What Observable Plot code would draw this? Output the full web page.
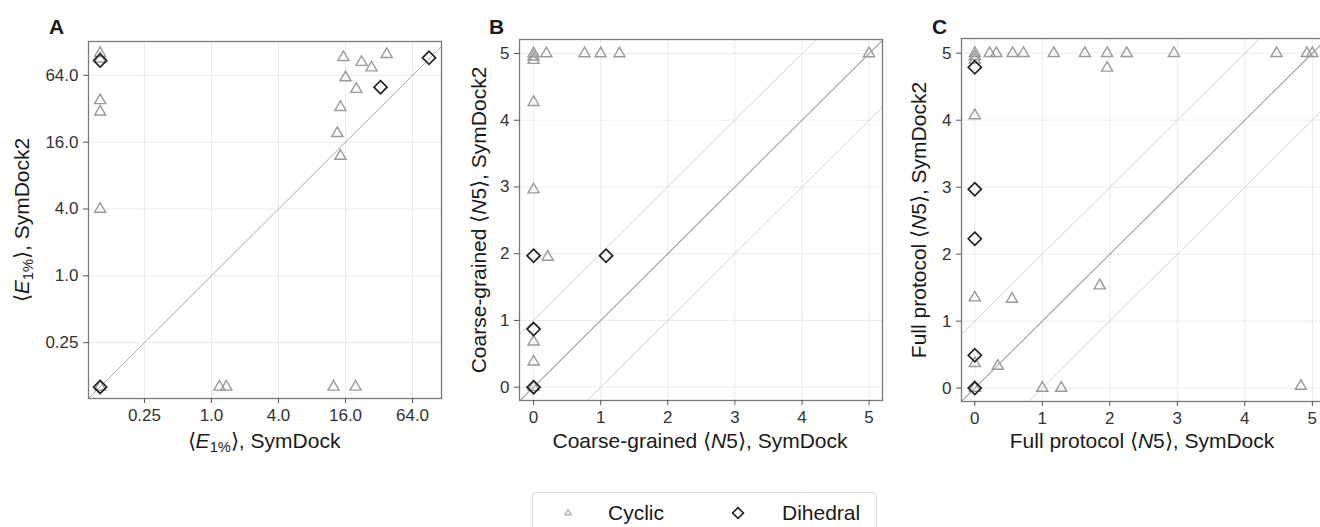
<!DOCTYPE html>
<html>
<head>
<meta charset="utf-8">
<script src="https://cdn.jsdelivr.net/npm/d3@7"></script>
<script src="https://cdn.jsdelivr.net/npm/@observablehq/plot@0.6"></script>
<style>
  html, body { margin: 0; padding: 0; background: #fff; }
  #wrap { position: relative; width: 1320px; height: 527px; overflow: hidden; background: #fff;
          font-family: "Liberation Sans", Arial, sans-serif; color: #1a1a1a; }
  .panel { position: absolute; top: 0; }
  .letter { position: absolute; font-weight: bold; font-size: 21px; line-height: 1; }
  .xt { position: absolute; font-size: 21px; white-space: nowrap; transform: translate(-50%, -50%); }
  .yt { position: absolute; font-size: 21px; white-space: nowrap; transform: translate(-50%, -50%) rotate(-90deg); }
  sub { font-size: 0.7em; vertical-align: -0.25em; line-height: 0; }
  #legend { position: absolute; left: 532px; top: 492px; width: 345px; height: 50px;
            border: 1px solid #dcdcdc; border-radius: 4px; box-sizing: border-box; }
  #legend .lab { position: absolute; top: 20px; font-size: 21px; transform: translateY(-50%); white-space: nowrap; }
  #legend svg { position: absolute; }
</style>
</head>
<body>
<div id="wrap"></div>
<script>
// ---------------- Data ----------------
// Panel A: <E1%> (log scale), zero values shown at the 0.1 floor
const aCyclicX = [0.1, 0.1, 0.1, 0.1, 0.1, 0.1, 1.18, 1.36, 12.5, 19.7, 15.3, 16, 20, 22.3, 27.4, 37.5, 14.4, 13.5, 14.4];
const aCyclicY = [101, 90, 38, 30, 4.0, 0.1, 0.1, 0.1, 0.1, 0.1, 93, 61, 48, 84, 75, 99, 33, 19.2, 12];
const aDihedralX = [0.1, 0.1, 33, 90];
const aDihedralY = [87, 0.1, 50, 92];
const aTicks = [0.25, 1, 4, 16, 64];
const aTickLabels = ["0.25", "1.0", "4.0", "16.0", "64.0"];
const aDomainX = [0.0786, 116.5];
const aDomainY = [0.0786, 129];

// Panel B: coarse-grained <N5>
const bCyclicX = [0, 0, 0, 0.19, 0.76, 1.0, 1.28, 5.0, 0, 0, 0, 0, 0, 0.21];
const bCyclicY = [5, 4.95, 4.9, 5, 5, 5, 5, 5, 4.27, 2.96, 0.68, 0.38, 0, 1.95];
const bDihedralX = [0, 1.08, 0, 0];
const bDihedralY = [1.97, 1.97, 0.87, 0];

// Panel C: full protocol <N5>
const cCyclicX = [0, 0, 0, 0.22, 0.32, 0.56, 0.72, 1.17, 1.63, 1.96, 2.25, 2.95, 4.47, 4.92, 5.0,
                  1.96, 0, 0, 0, 0, 0.55, 1.85, 0.34, 1.0, 1.28, 4.83];
const cCyclicY = [5, 4.95, 4.9, 5, 5, 5, 5, 5, 5, 5, 5, 5, 5, 5, 5,
                  4.78, 4.07, 1.35, 0.37, 0, 1.33, 1.53, 0.33, 0, 0, 0.03];
const cDihedralX = [0, 0, 0, 0, 0];
const cDihedralY = [4.79, 2.97, 2.23, 0.49, 0];

const nTicks = [0, 1, 2, 3, 4, 5];
const refOffsets = [-1, 0, 1];
const groups = ["Cyclic", "Dihedral"];

// ---------------- Styling ----------------
const cycColor = "#9a9a9a";
const dihColor = "#222";
const gridColor = "#ebebeb";
const frameColor = "#7a7a7a";
const font = "Liberation Sans, Arial, sans-serif";

function pts(xs, ys) { return xs.map((x, i) => ({x, y: ys[i]})); }

function refLines(lo, hi, offsets) {
  const rows = [];
  offsets.forEach(o => { rows.push({x: lo - 2, y: lo - 2 + o, o}); rows.push({x: hi + 2, y: hi + 2 + o, o}); });
  return rows;
}

function makePanel(cfg) {
  const marks = [
    Plot.gridX(cfg.xTicks, {stroke: gridColor, strokeOpacity: 1, strokeWidth: 1}),
    Plot.gridY(cfg.yTicks, {stroke: gridColor, strokeOpacity: 1, strokeWidth: 1}),
    ...cfg.lines,
    Plot.dot(pts(cfg.cx, cfg.cy), {x: "x", y: "y", symbol: "triangle2", r: 5.3, stroke: cycColor, strokeWidth: 1.4, fill: "none"}),
    Plot.dot(pts(cfg.dx, cfg.dy), {x: "x", y: "y", symbol: "diamond2", r: 5.9, stroke: dihColor, strokeWidth: 1.7, fill: "none"}),
    Plot.frame({stroke: frameColor, strokeWidth: 1.3}),
    Plot.axisX({ticks: cfg.xTicks, tickFormat: cfg.xFmt, tickSize: 5, tickPadding: 5, fontSize: 17, label: null, stroke: "#555"}),
    Plot.axisY({ticks: cfg.yTicks, tickFormat: cfg.yFmt, tickSize: 5, tickPadding: 5, fontSize: 17, label: null, stroke: "#555"})
  ];
  return Plot.plot({
    width: cfg.width, height: 470,
    marginLeft: cfg.ml, marginRight: cfg.mr, marginTop: cfg.mt, marginBottom: 470 - cfg.bottom,
    x: {type: cfg.type, base: cfg.base, domain: cfg.xDomain},
    y: {type: cfg.type, base: cfg.base, domain: cfg.yDomain},
    style: {fontFamily: font, fontSize: "17px", color: "#333", background: "transparent", overflow: "visible"},
    marks
  });
}

const wrap = document.getElementById("wrap");

// Panel A
const aFmt = d => aTickLabels[aTicks.indexOf(d)];
const aLine = [{x: aDomainX[0] / 2, y: aDomainX[0] / 2}, {x: aDomainY[1] * 2, y: aDomainY[1] * 2}];
const pA = makePanel({
  width: 450, ml: 88, mr: 9, mt: 41, bottom: 398, type: "log", base: 2,
  xDomain: aDomainX, yDomain: aDomainY, xTicks: aTicks, yTicks: aTicks, xFmt: aFmt, yFmt: aFmt,
  lines: [Plot.line(aLine, {x: "x", y: "y", stroke: "#aaa", strokeWidth: 1, clip: true})],
  cx: aCyclicX, cy: aCyclicY, dx: aDihedralX, dy: aDihedralY
});

function nLines(lo, hi) {
  const rows = refLines(lo, hi, refOffsets);
  return [
    Plot.line(rows.filter(r => r.o !== 0), {x: "x", y: "y", z: "o", stroke: "#d2d2d2", strokeWidth: 1, clip: true}),
    Plot.line(rows.filter(r => r.o === 0), {x: "x", y: "y", stroke: "#a0a0a0", strokeWidth: 1.1, clip: true})
  ];
}

const pB = makePanel({
  width: 440, ml: 69, mr: 8, mt: 39, bottom: 400, type: "linear",
  xDomain: [-0.21, 5.2], yDomain: [-0.2, 5.21], xTicks: nTicks, yTicks: nTicks, xFmt: d => String(d), yFmt: d => String(d),
  lines: nLines(-0.21, 5.21),
  cx: bCyclicX, cy: bCyclicY, dx: bDihedralX, dy: bDihedralY
});

const pC = makePanel({
  width: 442, ml: 71, mr: 8, mt: 38, bottom: 401, type: "linear",
  xDomain: [-0.197, 5.18], yDomain: [-0.2, 5.22], xTicks: nTicks, yTicks: nTicks, xFmt: d => String(d), yFmt: d => String(d),
  lines: nLines(-0.2, 5.22),
  cx: cCyclicX, cy: cCyclicY, dx: cDihedralX, dy: cDihedralY
});

[[pA, 0], [pB, 450], [pC, 890]].forEach(([p, left]) => {
  p.classList.add("panel");
  p.style.left = left + "px";
  wrap.appendChild(p);
});

// Panel letters
[["A", 49, 16], ["B", 489, 16], ["C", 932, 16]].forEach(([t, l, tp]) => {
  const d = document.createElement("div");
  d.className = "letter"; d.textContent = t; d.style.left = l + "px"; d.style.top = tp + "px";
  wrap.appendChild(d);
});

// Axis titles
const E = '&#x27E8;<i>E</i><sub>1%</sub>&#x27E9;';
const N = '&#x27E8;<i>N</i>5&#x27E9;';
const titles = [
  ["xt", E + ", SymDock", 264, 441],
  ["yt", E + ", SymDock2", 22, 220],
  ["xt", "Coarse-grained " + N + ", SymDock", 700, 441],
  ["yt", "Coarse-grained " + N + ", SymDock2", 479, 220],
  ["xt", "Full protocol " + N + ", SymDock", 1142, 441],
  ["yt", "Full protocol " + N + ", SymDock2", 919, 220]
];
titles.forEach(([cls, html, x, y]) => {
  const d = document.createElement("div");
  d.className = cls; d.innerHTML = html; d.style.left = x + "px"; d.style.top = y + "px";
  wrap.appendChild(d);
});

// Legend
const legend = document.createElement("div");
legend.id = "legend";
const legendItems = [
  {label: groups[0], sym: d3.symbolTriangle2, size: 28, stroke: "#aaa", sw: 1.2, sx: 35, lx: 75},
  {label: groups[1], sym: d3.symbolDiamond2, size: 75, stroke: dihColor, sw: 1.6, sx: 205, lx: 249}
];
legendItems.forEach(it => {
  const svg = d3.create("svg").attr("width", 24).attr("height", 24)
    .style("left", (it.sx - 12) + "px").style("top", (20 - 12) + "px");
  svg.append("path").attr("d", d3.symbol(it.sym, it.size)()).attr("transform", "translate(12,12)")
    .attr("fill", "none").attr("stroke", it.stroke).attr("stroke-width", it.sw);
  legend.appendChild(svg.node());
  const t = document.createElement("div");
  t.className = "lab"; t.textContent = it.label; t.style.left = it.lx + "px";
  legend.appendChild(t);
});
wrap.appendChild(legend);
</script>
</body>
</html>
